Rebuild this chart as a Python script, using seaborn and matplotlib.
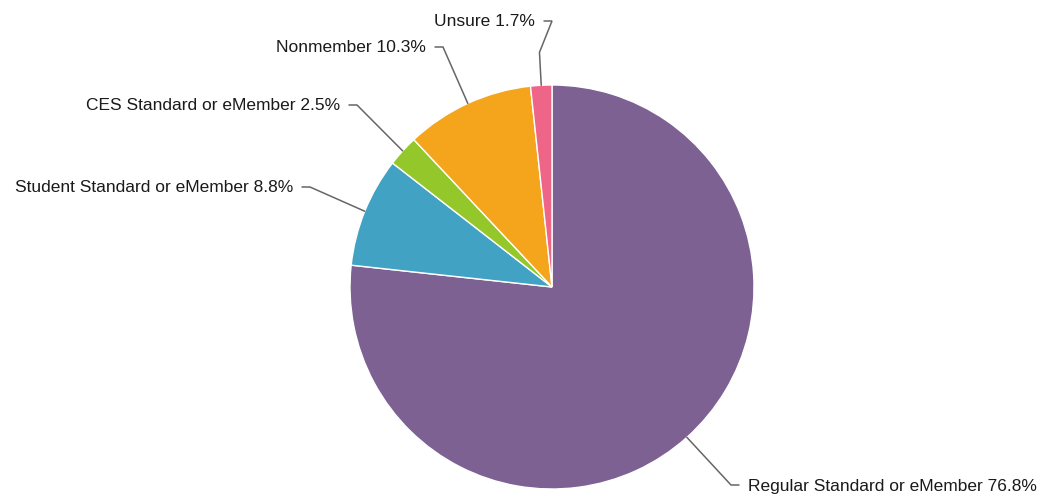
import numpy as np
import matplotlib
matplotlib.use('Agg')
import matplotlib.pyplot as plt
import seaborn as sns

# membership share data
categories = ['Regular Standard or eMember', 'Student Standard or eMember',
              'CES Standard or eMember', 'Nonmember', 'Unsure']
shares = [76.8, 8.8, 2.5, 10.3, 1.7]
colors = ['#7d6193', '#41a2c4', '#94c82a', '#f4a51c', '#ef6588']

sns.set_theme(style='white')
plt.rcParams['font.family'] = ['Liberation Sans', 'DejaVu Sans']

W, H = 1039, 495
fig = plt.figure(figsize=(W / 100, H / 100), dpi=100)
ax = fig.add_axes([0, 0, 1, 1])

cx, cy, r = 552, H - 287, 202
wedges, _ = ax.pie(shares, colors=sns.color_palette(colors), startangle=90,
                   counterclock=False, center=(cx, cy), radius=r,
                   wedgeprops=dict(edgecolor='white', linewidth=1.0), frame=True)
ax.set_xlim(0, W)
ax.set_ylim(0, H)
ax.set_aspect('equal')
ax.axis('off')

# label layout: elbow point (pixels from top-left), side, optional extra radius
elbows = [(731, 485, 1, None), (310, 187, -1, None), (357, 105, -1, None),
          (443, 47, -1, None), (552, 21, -1, 235)]

for w, name, val, (ex, ey, side, rmid) in zip(wedges, categories, shares, elbows):
    ang = np.deg2rad((w.theta1 + w.theta2) / 2)
    px, py = cx + r * np.cos(ang), cy + r * np.sin(ang)
    xs, ys = [px], [py]
    if rmid is not None:
        xs.append(cx + rmid * np.cos(ang))
        ys.append(cy + rmid * np.sin(ang))
    ey = H - ey
    xs += [ex, ex + side * 8]
    ys += [ey, ey]
    ax.plot(xs, ys, color='#666666', lw=1.1, solid_joinstyle='miter')
    ax.text(ex + side * 17, ey - 1, f'{name} {val}%', fontsize=12.5, color='#1a1a1a',
            ha='left' if side > 0 else 'right', va='center')

fig.savefig('out.png', dpi=100)
